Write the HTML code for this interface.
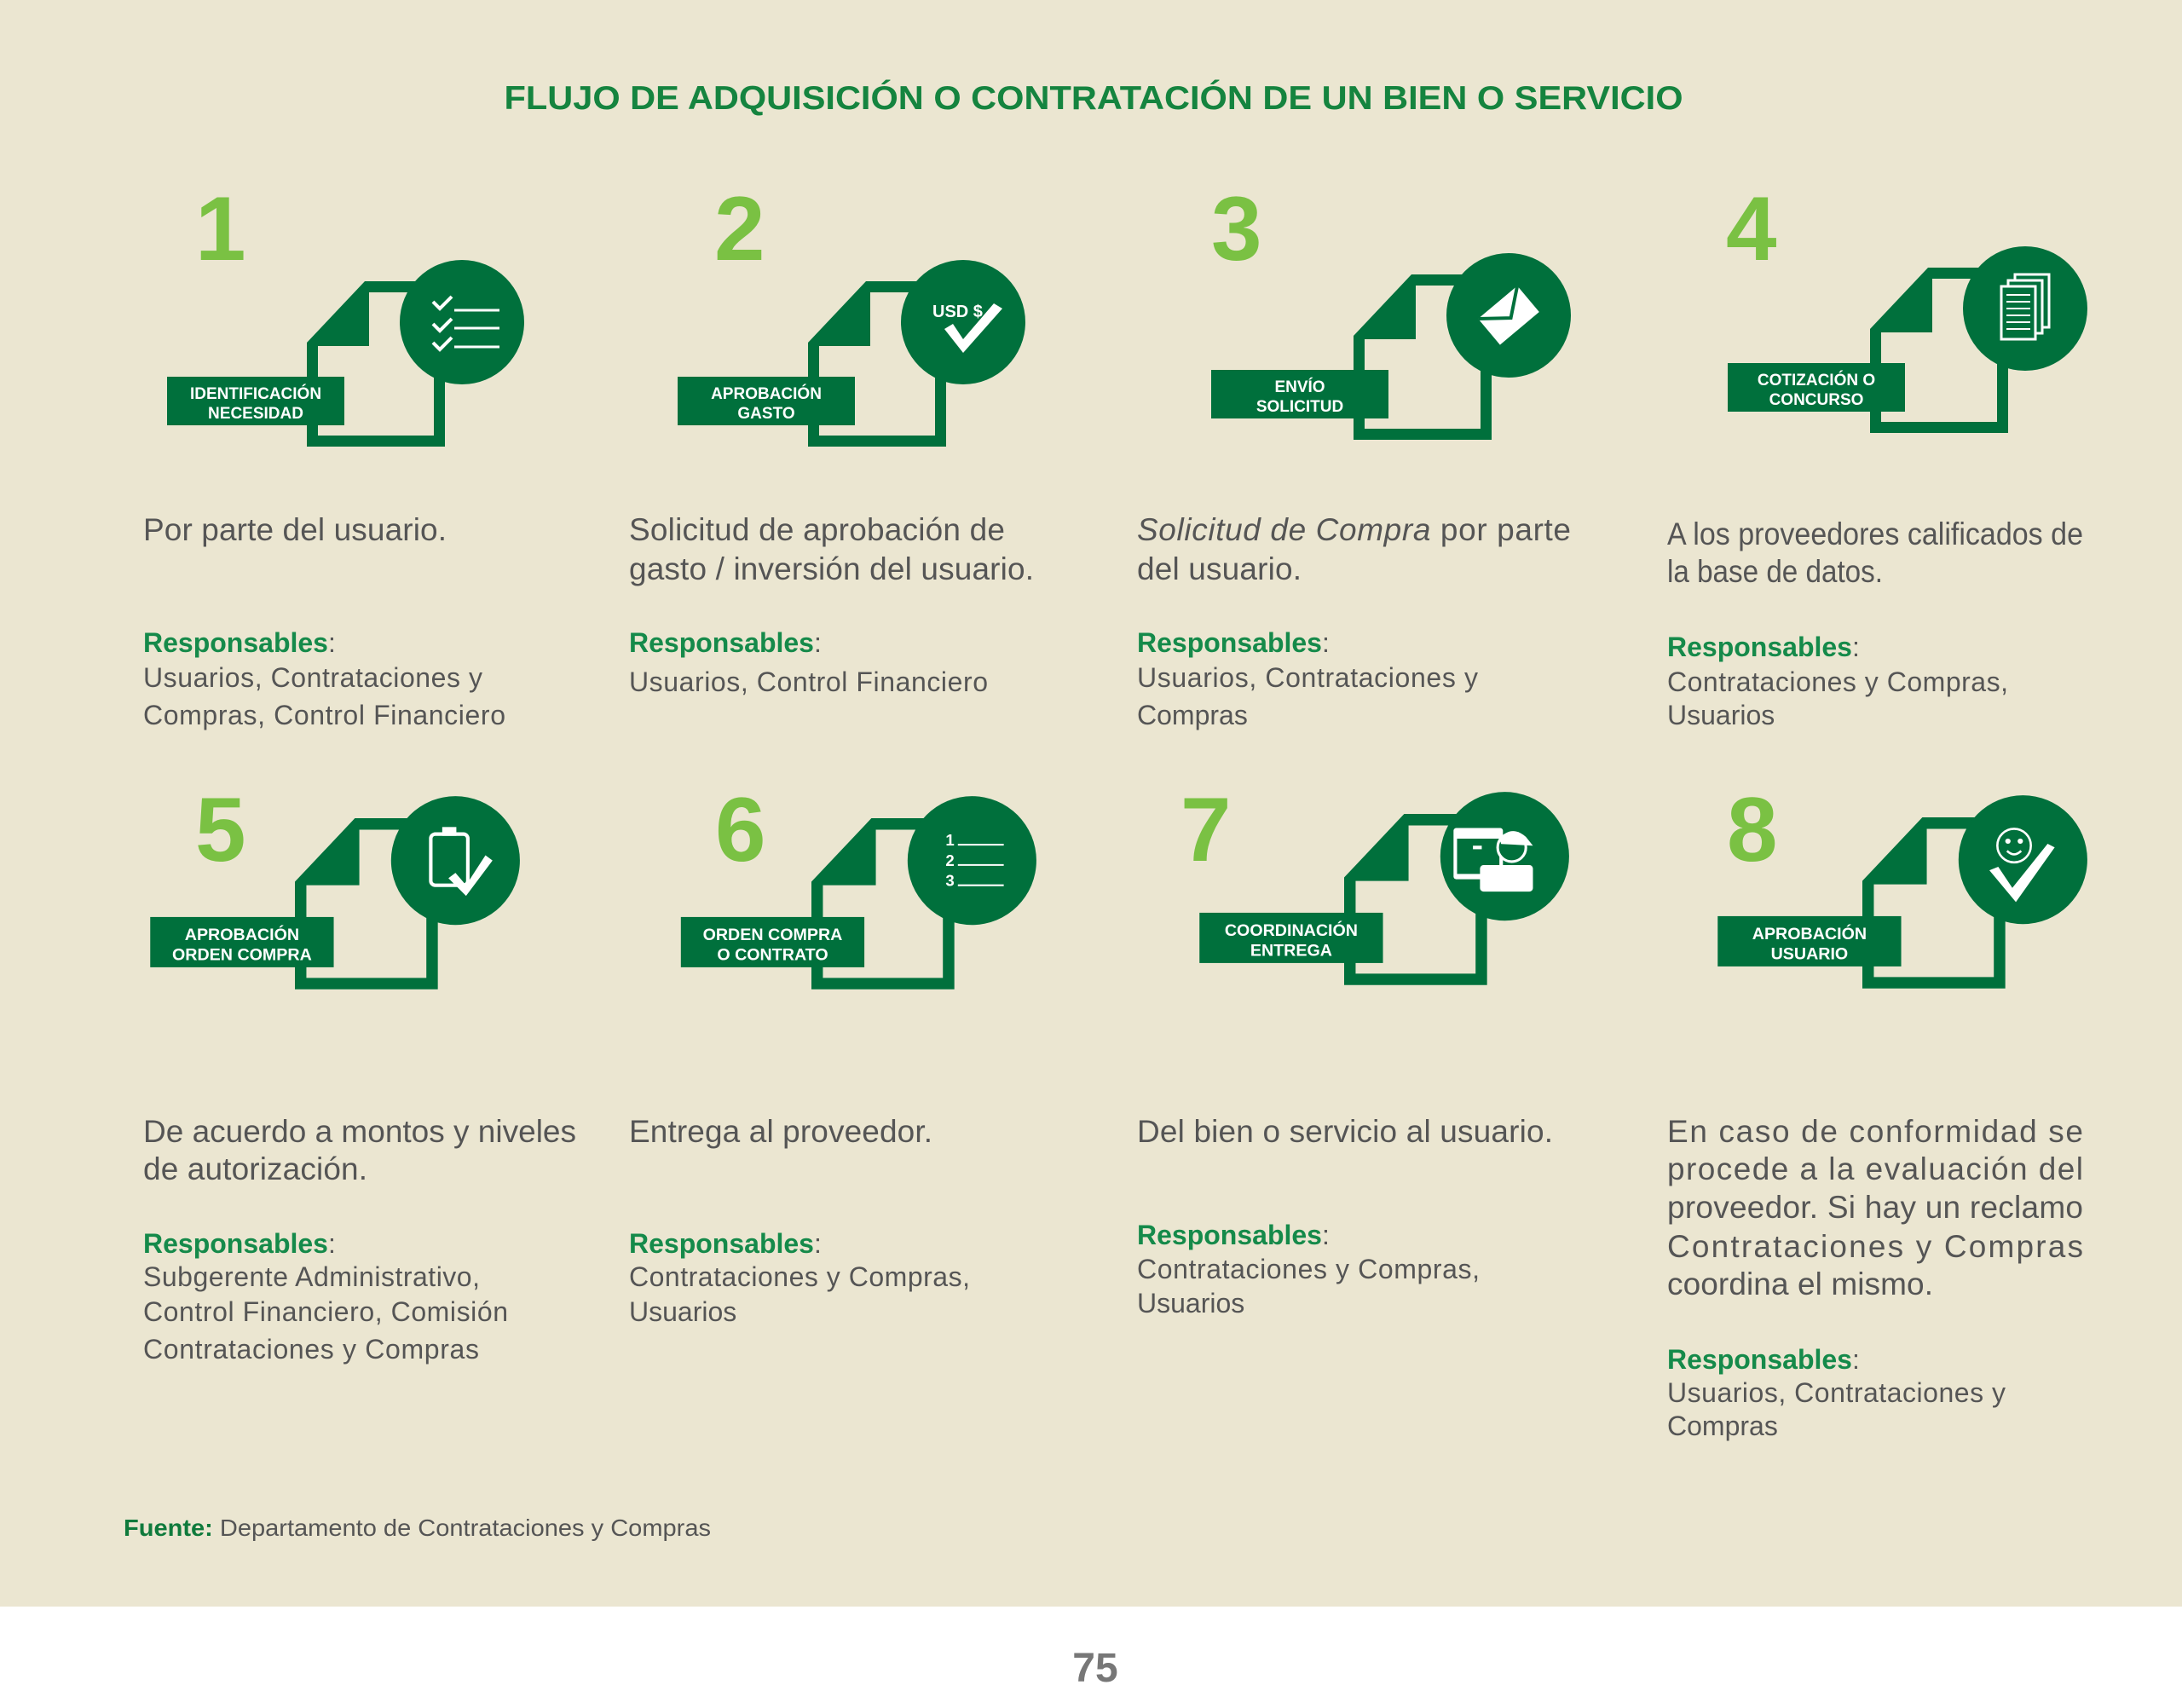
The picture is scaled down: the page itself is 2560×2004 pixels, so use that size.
<!DOCTYPE html>
<html><head><meta charset="utf-8"><style>
html,body{margin:0;padding:0;background:#fff}
svg{display:block}
.t{font-family:"Liberation Sans",Arial,sans-serif}
.b{fill:#555;font-size:37px}
.r{fill:#555;font-size:32px}
.h{fill:#158a4a;font-size:32px;font-weight:bold}
.n{fill:#7ac143;font-size:107px;font-weight:bold}
.lb{fill:#fff;font-size:19px;font-weight:bold;text-anchor:middle}
</style></head><body>
<svg width="2560" height="2004" viewBox="0 0 2560 2004" xmlns="http://www.w3.org/2000/svg" class="t">
<rect x="0" y="0" width="2560" height="1885" fill="#ebe6d1"/>
<rect x="0" y="1885" width="2560" height="119" fill="#fff"/>
<text x="1283" y="128" text-anchor="middle" font-size="39" font-weight="bold" fill="#15843f" textLength="1383" lengthAdjust="spacingAndGlyphs">FLUJO DE ADQUISICIÓN O CONTRATACIÓN DE UN BIEN O SERVICIO</text>

<!-- numbers -->
<text class="n" x="229" y="305">1</text>
<text class="n" x="838" y="305">2</text>
<text class="n" x="1421" y="305">3</text>
<text class="n" x="2025" y="305">4</text>
<text class="n" x="229" y="1010">5</text>
<text class="n" x="839" y="1010">6</text>
<text class="n" x="1385" y="1010">7</text>
<text class="n" x="2026" y="1010">8</text>

<g fill="#00703c">
<!-- Icon 1 -->
<g transform="translate(360,330)">
<path fill-rule="evenodd" d="M68 0H162V194H0V72Z M73 13V76H13V181H149V13Z"/>
<rect x="-164" y="112" width="208" height="57"/>
<text class="lb" x="-60" y="138">IDENTIFICACIÓN</text><text class="lb" x="-60" y="161">NECESIDAD</text>
<circle cx="182" cy="48" r="73"/>
<g transform="translate(182,48)" stroke="#fff" fill="none" stroke-width="3">
<path d="M-34 -24l8 8l14 -14M-34 2l8 8l14 -14M-34 24l8 8l14 -14" stroke-width="4"/>
<path d="M-9 -14H44M-9 7H44M-9 29H44"/></g>
</g>
<!-- Icon 2 -->
<g transform="translate(948,330)">
<path fill-rule="evenodd" d="M68 0H162V194H0V72Z M73 13V76H13V181H149V13Z"/>
<rect x="-153" y="112" width="208" height="57"/>
<text class="lb" x="-49" y="138">APROBACIÓN</text><text class="lb" x="-49" y="161">GASTO</text>
<circle cx="182" cy="48" r="73"/>
<g transform="translate(182,48)">
<text x="-36" y="-6" fill="#fff" font-size="20" font-weight="bold">USD $</text>
<path d="M-22 8L-12 2L0 20L36 -22L46 -16L0 36Z" fill="#fff"/></g>
</g>
<!-- Icon 3 -->
<g transform="translate(1588,322)">
<path fill-rule="evenodd" d="M68 0H162V194H0V72Z M73 13V76H13V181H149V13Z"/>
<rect x="-167" y="112" width="208" height="57"/>
<text class="lb" x="-63" y="138">ENVÍO</text><text class="lb" x="-63" y="161">SOLICITUD</text>
<circle cx="182" cy="48" r="73"/>
<g transform="translate(182,48) rotate(-40)" fill="#fff">
<rect x="-30" y="-20" width="60" height="40"/>
<path d="M-30 -20L0 4L30 -20" stroke="#00703c" stroke-width="4" fill="none"/></g>
</g>
<!-- Icon 4 -->
<g transform="translate(2194,314)">
<path fill-rule="evenodd" d="M68 0H162V194H0V72Z M73 13V76H13V181H149V13Z"/>
<rect x="-167" y="112" width="208" height="57"/>
<text class="lb" x="-63" y="138">COTIZACIÓN O</text><text class="lb" x="-63" y="161">CONCURSO</text>
<circle cx="182" cy="48" r="73"/>
<g transform="translate(182,48)" fill="#00703c" stroke="#fff" stroke-width="3">
<rect x="-12" y="-40" width="40" height="62"/><rect x="-20" y="-33" width="40" height="62"/><rect x="-28" y="-26" width="40" height="62"/>
<path d="M-22 -16H6M-22 -8H6M-22 0H6M-22 8H6M-22 16H6M-22 24H6" stroke-width="2"/></g>
</g>
<!-- Icon 5 -->
<g transform="translate(346,960) scale(1.035)">
<path fill-rule="evenodd" d="M68 0H162V194H0V72Z M73 13V76H13V181H149V13Z"/>
<rect x="-164" y="112" width="208" height="57"/>
<text class="lb" x="-60" y="138">APROBACIÓN</text><text class="lb" x="-60" y="161">ORDEN COMPRA</text>
<circle cx="182" cy="48" r="73"/>
<g transform="translate(182,48)">
<rect x="-28" y="-30" width="42" height="58" rx="5" fill="none" stroke="#fff" stroke-width="4"/>
<rect x="-15" y="-38" width="16" height="10" fill="#fff"/>
<path d="M-8 20L0 14L12 28L34 -6L42 0L12 40Z" fill="#fff"/></g>
</g>
<!-- Icon 6 -->
<g transform="translate(952,960) scale(1.035)">
<path fill-rule="evenodd" d="M68 0H162V194H0V72Z M73 13V76H13V181H149V13Z"/>
<rect x="-148" y="112" width="208" height="57"/>
<text class="lb" x="-44" y="138">ORDEN COMPRA</text><text class="lb" x="-44" y="161">O CONTRATO</text>
<circle cx="182" cy="48" r="73"/>
<g transform="translate(182,48)" fill="#fff" font-size="18" font-weight="bold">
<text x="-30" y="-17">1</text><text x="-30" y="6">2</text><text x="-30" y="29">3</text>
<path d="M-16 -18H36M-16 5H36M-16 28H36" stroke="#fff" stroke-width="2"/></g>
</g>
<!-- Icon 7 -->
<g transform="translate(1577,955) scale(1.035)">
<path fill-rule="evenodd" d="M68 0H162V194H0V72Z M73 13V76H13V181H149V13Z"/>
<rect x="-164" y="112" width="208" height="57"/>
<text class="lb" x="-60" y="138">COORDINACIÓN</text><text class="lb" x="-60" y="161">ENTREGA</text>
<circle cx="182" cy="48" r="73"/>
<g transform="translate(182,48)" fill="#fff">
<rect x="-58" y="-32" width="56" height="58" rx="3"/>
<rect x="-54" y="-20" width="48" height="40" fill="#00703c"/>
<rect x="-36" y="-12" width="10" height="4"/>
<circle cx="8" cy="-10" r="16" fill="#00703c" stroke="#fff" stroke-width="3"/>
<path d="M-6 -20Q8 -36 24 -22L32 -12L-4 -14Z"/>
<rect x="-28" y="10" width="60" height="30" rx="4"/></g>
</g>
<!-- Icon 8 -->
<g transform="translate(2185,959) scale(1.035)">
<path fill-rule="evenodd" d="M68 0H162V194H0V72Z M73 13V76H13V181H149V13Z"/>
<rect x="-164" y="112" width="208" height="57"/>
<text class="lb" x="-60" y="138">APROBACIÓN</text><text class="lb" x="-60" y="161">USUARIO</text>
<circle cx="182" cy="48" r="73"/>
<g transform="translate(182,48)">
<circle cx="-10" cy="-16" r="19" fill="none" stroke="#fff" stroke-width="2.5"/>
<circle cx="-17" cy="-21" r="3" fill="#fff"/><circle cx="-3" cy="-21" r="3" fill="#fff"/>
<path d="M-18 -10Q-10 -2 -2 -10" fill="none" stroke="#fff" stroke-width="2.5"/>
<path d="M-38 12L-28 8L-12 32L28 -18L36 -14L-8 48Z" fill="#fff"/></g>
</g>
</g>

<!-- Row 1 text -->
<text class="b" x="168" y="634" textLength="356">Por parte del usuario.</text>
<text x="168" y="765"><tspan class="h">Responsables</tspan><tspan class="r">:</tspan></text>
<text class="r" x="168" y="806" textLength="398">Usuarios, Contrataciones y</text>
<text class="r" x="168" y="850" textLength="425">Compras, Control Financiero</text>

<text class="b" x="738" y="634" textLength="441">Solicitud de aprobación de</text>
<text class="b" x="738" y="680" textLength="475">gasto / inversión del usuario.</text>
<text x="738" y="765"><tspan class="h">Responsables</tspan><tspan class="r">:</tspan></text>
<text class="r" x="738" y="811" textLength="421">Usuarios, Control Financiero</text>

<text class="b" x="1334" y="634" textLength="509"><tspan font-style="italic">Solicitud de Compra</tspan> por parte</text>
<text class="b" x="1334" y="680" textLength="193">del usuario.</text>
<text x="1334" y="765"><tspan class="h">Responsables</tspan><tspan class="r">:</tspan></text>
<text class="r" x="1334" y="806" textLength="400">Usuarios, Contrataciones y</text>
<text class="r" x="1334" y="850">Compras</text>

<text class="b" x="1956" y="639" textLength="488" lengthAdjust="spacingAndGlyphs">A los proveedores calificados de</text>
<text class="b" x="1956" y="683" textLength="253" lengthAdjust="spacingAndGlyphs">la base de datos.</text>
<text x="1956" y="770"><tspan class="h">Responsables</tspan><tspan class="r">:</tspan></text>
<text class="r" x="1956" y="811" textLength="400">Contrataciones y Compras,</text>
<text class="r" x="1956" y="850">Usuarios</text>

<!-- Row 2 text -->
<text class="b" x="168" y="1340" textLength="508">De acuerdo a montos y niveles</text>
<text class="b" x="168" y="1384" textLength="263">de autorización.</text>
<text x="168" y="1470"><tspan class="h">Responsables</tspan><tspan class="r">:</tspan></text>
<text class="r" x="168" y="1509" textLength="395">Subgerente Administrativo,</text>
<text class="r" x="168" y="1550" textLength="428">Control Financiero, Comisión</text>
<text class="r" x="168" y="1594" textLength="394">Contrataciones y Compras</text>

<text class="b" x="738" y="1340" textLength="356">Entrega al proveedor.</text>
<text x="738" y="1470"><tspan class="h">Responsables</tspan><tspan class="r">:</tspan></text>
<text class="r" x="738" y="1509" textLength="400">Contrataciones y Compras,</text>
<text class="r" x="738" y="1550">Usuarios</text>

<text class="b" x="1334" y="1340" textLength="488">Del bien o servicio al usuario.</text>
<text x="1334" y="1460"><tspan class="h">Responsables</tspan><tspan class="r">:</tspan></text>
<text class="r" x="1334" y="1500" textLength="402">Contrataciones y Compras,</text>
<text class="r" x="1334" y="1540">Usuarios</text>

<text class="b" x="1956" y="1340" textLength="488">En caso de conformidad se</text>
<text class="b" x="1956" y="1384" textLength="488">procede a la evaluación del</text>
<text class="b" x="1956" y="1429" textLength="488">proveedor. Si hay un reclamo</text>
<text class="b" x="1956" y="1475" textLength="488">Contrataciones y Compras</text>
<text class="b" x="1956" y="1519" textLength="312">coordina el mismo.</text>
<text x="1956" y="1606"><tspan class="h">Responsables</tspan><tspan class="r">:</tspan></text>
<text class="r" x="1956" y="1645" textLength="397">Usuarios, Contrataciones y</text>
<text class="r" x="1956" y="1684">Compras</text>

<text x="145" y="1802" font-size="28" textLength="689" lengthAdjust="spacingAndGlyphs"><tspan fill="#0f7a3c" font-weight="bold">Fuente:</tspan><tspan fill="#555"> Departamento de Contrataciones y Compras</tspan></text>
<text x="1285" y="1973" text-anchor="middle" font-size="48" font-weight="bold" fill="#777">75</text>
</svg>
</body></html>
